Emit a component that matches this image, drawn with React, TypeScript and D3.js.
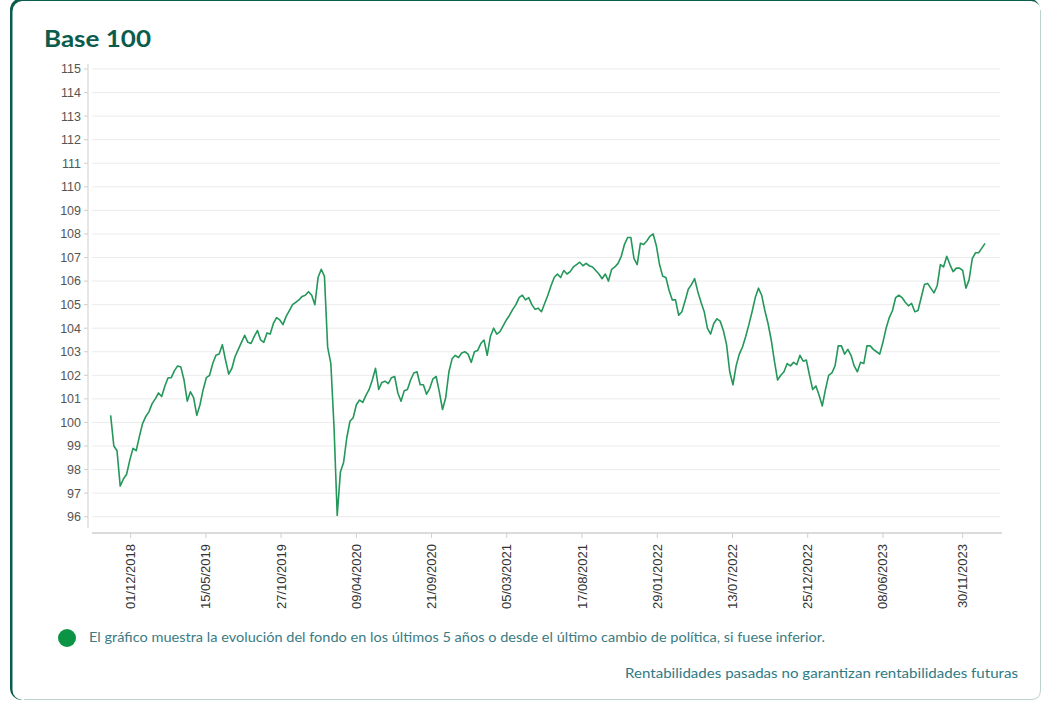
import * as d3 from 'd3'

// weekly closes, first one on 18/10/2018
const startDate = '18/10/2018'
const stepDays = 7
const values = [
  100.3, 99.0, 98.8, 97.3, 97.6, 97.8, 98.4, 98.9, 98.8, 99.4,
  99.95, 100.25, 100.45, 100.8, 101.0, 101.25, 101.1, 101.55, 101.9, 101.9,
  102.2, 102.4, 102.35, 101.8, 100.9, 101.3, 101.05, 100.3, 100.75, 101.4,
  101.9, 102.0, 102.5, 102.85, 102.9, 103.3, 102.65, 102.05, 102.3, 102.8,
  103.1, 103.4, 103.7, 103.4, 103.35, 103.65, 103.9, 103.5, 103.4, 103.8,
  103.75, 104.2, 104.45, 104.35, 104.15, 104.5, 104.75, 105.0, 105.1, 105.2,
  105.35, 105.4, 105.55, 105.4, 105.0, 106.15, 106.5, 106.2, 103.2, 102.5,
  99.8, 96.05, 97.9, 98.3, 99.35, 100.05, 100.2, 100.75, 100.95, 100.85,
  101.15, 101.4, 101.8, 102.3, 101.4, 101.7, 101.75, 101.65, 101.9, 101.95,
  101.25, 100.9, 101.35, 101.4, 101.8, 102.1, 102.15, 101.6, 101.6, 101.2,
  101.45, 101.85, 101.95, 101.3, 100.55, 101.05, 102.15, 102.7, 102.85, 102.75,
  102.95, 103.0, 102.9, 102.55, 103.0, 103.05, 103.35, 103.5, 102.85, 103.65,
  104.0, 103.75, 103.85, 104.1, 104.35, 104.55, 104.8, 105.0, 105.3, 105.4,
  105.2, 105.3, 105.0, 104.8, 104.85, 104.7, 105.05, 105.4, 105.8, 106.15,
  106.3, 106.15, 106.45, 106.3, 106.4, 106.6, 106.7, 106.8, 106.65, 106.75,
  106.65, 106.6, 106.45, 106.3, 106.1, 106.3, 106.0, 106.5, 106.6, 106.75,
  107.05, 107.55, 107.85, 107.85, 106.95, 106.7, 107.6, 107.55, 107.7, 107.9,
  108.0, 107.5, 106.7, 106.2, 106.15, 105.6, 105.2, 105.2, 104.55, 104.7,
  105.15, 105.65, 105.85, 106.1, 105.55, 105.1, 104.7, 104.0, 103.75, 104.2,
  104.4, 104.3, 103.9, 103.3, 102.15, 101.6, 102.4, 102.9, 103.2, 103.65,
  104.15, 104.7, 105.3, 105.7, 105.4, 104.75, 104.2, 103.5, 102.6, 101.8,
  102.0, 102.15, 102.5, 102.4, 102.55, 102.45, 102.85, 102.6, 102.65, 102.0,
  101.4, 101.55, 101.15, 100.7, 101.4, 102.0, 102.1, 102.4, 103.25, 103.25,
  102.9, 103.1, 102.85, 102.4, 102.15, 102.55, 102.5, 103.25, 103.25, 103.1,
  103.0, 102.9, 103.4, 104.0, 104.45, 104.75, 105.3, 105.4, 105.3, 105.1,
  104.95, 105.05, 104.7, 104.75, 105.3, 105.85, 105.9, 105.7, 105.5, 105.8,
  106.7, 106.6, 107.05, 106.7, 106.4, 106.55, 106.55, 106.45, 105.7, 106.05,
  106.95, 107.2, 107.2, 107.4, 107.6,
]

const xTickLabels = [
  '01/12/2018', '15/05/2019', '27/10/2019', '09/04/2020', '21/09/2020', '05/03/2021',
  '17/08/2021', '29/01/2022', '13/07/2022', '25/12/2022', '08/06/2023', '30/11/2023',
]
const yTicks = [96, 97, 98, 99, 100, 101, 102, 103, 104, 105, 106, 107, 108, 109, 110, 111, 112, 113, 114, 115]

const title = 'Base 100'
const legendText =
  'El gráfico muestra la evolución del fondo en los últimos 5 años o desde el último cambio de política, si fuese inferior.'
const footerText = 'Rentabilidades pasadas no garantizan rentabilidades futuras'

const parse = d3.timeParse('%d/%m/%Y')

export default function App() {
  const W = 1055
  const H = 702
  const plot = { left: 92, right: 1000, axisX: 88, axisY: 533 }

  const tickDates = xTickLabels.map((t) => parse(t) as Date)
  const x = d3
    .scaleTime()
    .domain([tickDates[0], tickDates[tickDates.length - 1]])
    .range([130.7, 962.7])
  const y = d3.scaleLinear().domain([96, 115]).range([516.7, 69])

  const start = parse(startDate) as Date
  const data = values.map((v, i) => ({ date: d3.timeDay.offset(start, i * stepDays), value: v }))

  const line = d3
    .line<{ date: Date; value: number }>()
    .x((d) => x(d.date))
    .y((d) => y(d.value))

  const axisFont = '"Liberation Sans", Arial, sans-serif'
  const textFont = 'Lato, "Open Sans", sans-serif'

  return (
    <div style={{ position: 'absolute', left: 0, top: 0, width: W, height: H, background: '#fff' }}>
      <svg width={W} height={H} style={{ display: 'block' }}>
        {/* card */}
        <rect x={10} y={-2} width={1030} height={702} rx={12} fill="#0b5c4c" />
        <rect x={12.5} y={1} width={1028.5} height={699} rx={10} fill="#fff" />
        <path d="M1040.5,10 V690 Q1040.5,699.5 1031,699.5 H24" fill="none" stroke="#bcd3cf" strokeWidth={1} />

        <text
          x={44}
          y={47}
          fill="#0b5c4c"
          fontFamily={textFont}
          fontWeight={700}
          fontSize={23}
          textLength={107}
          lengthAdjust="spacingAndGlyphs"
        >
          {title}
        </text>

        {/* grid */}
        {yTicks.map((t) => (
          <line key={'g' + t} x1={plot.left} x2={plot.right} y1={y(t)} y2={y(t)} stroke="#ebebeb" strokeWidth={1} />
        ))}

        {/* y axis */}
        <line x1={plot.axisX} x2={plot.axisX} y1={64} y2={528} stroke="#cfcfcf" strokeWidth={1} />
        {yTicks.map((t) => (
          <g key={'y' + t}>
            <line x1={plot.axisX - 4} x2={plot.axisX} y1={y(t)} y2={y(t)} stroke="#cfcfcf" />
            <text
              x={81}
              y={y(t)}
              dy="0.35em"
              textAnchor="end"
              fill="#555"
              fontFamily={axisFont}
              fontSize={12.5}
            >
              {t}
            </text>
          </g>
        ))}

        {/* x axis */}
        <line x1={plot.left} x2={1002} y1={plot.axisY} y2={plot.axisY} stroke="#cfcfcf" strokeWidth={1.5} />
        {tickDates.map((d, i) => (
          <g key={'x' + i} transform={`translate(${x(d)},${plot.axisY})`}>
            <line y1={0} y2={5} stroke="#cfcfcf" />
            <text
              transform="rotate(-90)"
              x={-11}
              y={0}
              dy="0.35em"
              textAnchor="end"
              fill="#333"
              fontFamily={axisFont}
              fontSize={13}
            >
              {xTickLabels[i]}
            </text>
          </g>
        ))}

        {/* series */}
        <path d={line(data) ?? ''} fill="none" stroke="#24975a" strokeWidth={1.6} strokeLinejoin="round" />

        {/* legend */}
        <circle cx={67} cy={638} r={9} fill="#0a9444" />
        <text
          x={89}
          y={642}
          fill="#3b7b83"
          fontFamily={textFont}
          fontSize={12.5}
          textLength={736}
          lengthAdjust="spacingAndGlyphs"
        >
          {legendText}
        </text>

        <text
          x={625}
          y={678}
          fill="#2e7a84"
          fontFamily={textFont}
          fontSize={13}
          textLength={393}
          lengthAdjust="spacingAndGlyphs"
        >
          {footerText}
        </text>
      </svg>
    </div>
  )
}
